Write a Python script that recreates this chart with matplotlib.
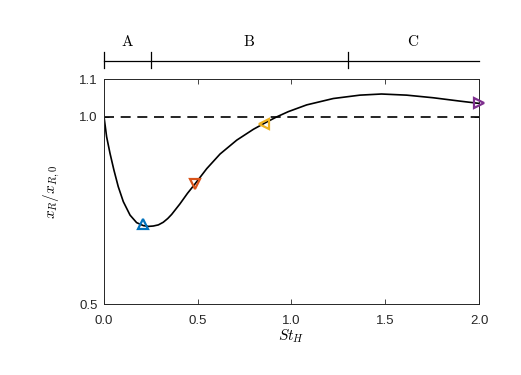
import numpy as np
import matplotlib
matplotlib.use("Agg")
import matplotlib.pyplot as plt
import matplotlib.transforms as mtransforms

plt.rcParams['mathtext.fontset'] = 'cm'
plt.rcParams['font.family'] = ['Liberation Sans', 'DejaVu Sans']

# curve
st = [0.0, 0.014, 0.032, 0.053, 0.076, 0.103, 0.139, 0.174, 0.21, 0.237,
      0.263, 0.29, 0.316, 0.34, 0.361, 0.405, 0.445, 0.485, 0.548, 0.619,
      0.708, 0.797, 0.859, 0.921, 0.983, 1.081, 1.223, 1.365, 1.48, 1.614,
      1.756, 1.899, 2.0]
xr = [1.0, 0.946, 0.902, 0.857, 0.813, 0.773, 0.737, 0.717, 0.709, 0.707,
      0.708, 0.711, 0.718, 0.728, 0.739, 0.767, 0.795, 0.82, 0.861, 0.9,
      0.937, 0.966, 0.983, 0.999, 1.013, 1.031, 1.048, 1.057, 1.06, 1.057,
      1.05, 1.041, 1.035]

# highlighted points
mk_st = [0.21, 0.485, 0.853, 2.0]
mk_xr = [0.713, 0.82, 0.981, 1.035]
mk_sym = ['^', 'v', '<', '>']
mk_col = ['#0072BD', '#D95319', '#EDB120', '#7E2F8E']

# regime brackets
regions = ['A', 'B', 'C']
edges = [0.0, 0.25, 1.3, 2.0]

fig = plt.figure(figsize=(5.21, 3.75), dpi=100)
ax = fig.add_axes([0.1996, 0.1893, 0.7198, 0.6])

ax.axhline(1.0, color='k', ls=(0, (6, 4)), lw=1.2)
ax.plot(st, xr, color='k', lw=1.2)
for s, x, m, c in zip(mk_st, mk_xr, mk_sym, mk_col):
    ax.plot(s, x, marker=m, mfc='none', mec=c, mew=1.6, ms=6.5, clip_on=False, zorder=5)

ax.set_xlim(0, 2)
ax.set_ylim(0.5, 1.1)
ax.set_xticks([0, 0.5, 1.0, 1.5, 2.0])
ax.set_xticklabels(['0.0', '0.5', '1.0', '1.5', '2.0'])
ax.set_yticks([0.5, 1.0, 1.1])
ax.set_yticklabels(['0.5', '1.0', '1.1'])
ax.tick_params(direction='in', top=True, right=True, labelsize=9.5,
               colors='#262626', length=3.5, width=0.6)
ax.tick_params(axis='x', pad=8)
ax.tick_params(axis='y', pad=4.5)
for sp in ax.spines.values():
    sp.set_color('#262626')
    sp.set_linewidth(0.7)
ax.set_xlabel('$St_H$', fontsize=11, labelpad=0)
ax.set_ylabel('$x_R/x_{R,0}$', fontsize=11, labelpad=12)

# bracket above the axes
tr = mtransforms.blended_transform_factory(ax.transData, ax.transAxes)
ax.plot([edges[0], edges[-1]], [1.081, 1.081], color='k', lw=0.9, transform=tr, clip_on=False)
for e in edges[:-1]:
    ax.plot([e, e], [1.047, 1.121], color='k', lw=0.9, transform=tr, clip_on=False)
for i, r in enumerate(regions):
    mid = 0.5 * (edges[i] + edges[i + 1])
    ax.text(mid, 1.166, r'$\mathrm{%s}$' % r, transform=tr, ha='center', va='center', fontsize=11)

fig.savefig('out.png', dpi=100)
